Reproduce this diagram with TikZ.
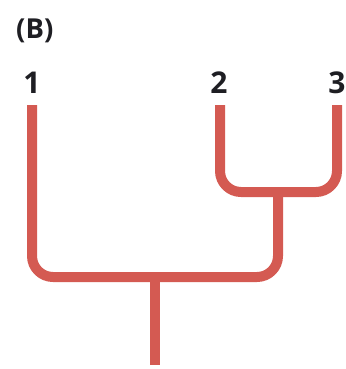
\documentclass[tikz,border=0pt]{standalone}
\usepackage{fontspec}
\setmainfont{Open Sans}
\definecolor{branch}{RGB}{212,90,82}
\definecolor{ink}{RGB}{30,30,35}
\begin{document}
\begin{tikzpicture}[x=1pt,y=-1pt,
  branchline/.style={draw=branch,line width=10pt,line cap=butt,line join=round},
  leaflabel/.style={anchor=base,inner sep=0pt,text=ink,font=\fontsize{30}{30}\selectfont\bfseries},
  paneltag/.style={anchor=base west,inner sep=0pt,text=ink,font=\fontsize{27.5}{28}\selectfont\bfseries}]
  \useasboundingbox (0,0) rectangle (345,369);

  % panel tag and leaf labels
  \node[paneltag] (tag) at (16,38) {(B)};
  \node[leaflabel] (n1) at (32,93) {1};
  \node[leaflabel] (n2) at (219,93) {2};
  \node[leaflabel] (n3) at (337,93) {3};

  % branch tips, joins and root
  \coordinate (t1) at (32,105);
  \coordinate (t2) at (220,105);
  \coordinate (t3) at (337,105);
  \coordinate (j23) at (278,192);
  \coordinate (j123) at (155,277);
  \coordinate (root) at (155,365);

  % clade (2,3)
  \draw[branchline,rounded corners=21pt] (t2) |- (j23) -| (t3);
  % clade (1,(2,3))
  \draw[branchline,rounded corners=21pt] (t1) |- (j123) -| (j23);
  % root stem
  \draw[branchline] (j123) -- (root);
\end{tikzpicture}
\end{document}
